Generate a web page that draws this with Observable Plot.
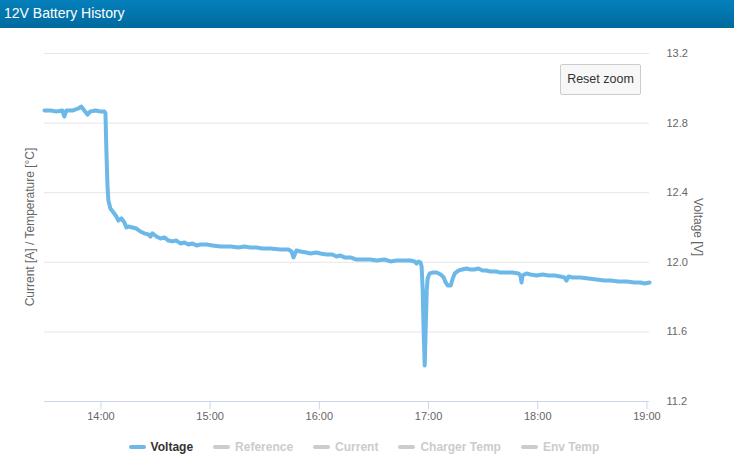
<!DOCTYPE html>
<html>
<head>
<meta charset="utf-8">
<script src="https://cdn.jsdelivr.net/npm/d3@7"></script>
<script src="https://cdn.jsdelivr.net/npm/@observablehq/plot@0.6"></script>
<style>
  html, body { margin: 0; padding: 0; background: #fff; }
  #wrap { position: relative; width: 734px; height: 471px; overflow: hidden; font-family: "Liberation Sans", Arial, Helvetica, sans-serif; }
  #header { position: absolute; left: 0; top: 0; width: 734px; height: 28px; background: linear-gradient(#0580bb, #006a9e); }
  #header span { position: absolute; left: 4px; top: 5px; color: #fff; font-size: 14px; line-height: 17px; }
  #chart { position: absolute; left: 0; top: 28px; }
  .ytitle { position: absolute; font-size: 12px; color: #666; white-space: nowrap; transform-origin: center center; }
  #btn { position: absolute; left: 560px; top: 64px; width: 79px; height: 29px; background: #f7f7f7; border: 1px solid #cccccc; border-radius: 2px; font-size: 12.5px; color: #333; text-align: center; line-height: 29px; }
  #legend { position: absolute; left: -3px; top: 440px; width: 734px; display: flex; justify-content: center; font-size: 12px; font-weight: bold; }
  .item { display: flex; align-items: center; margin: 0 10px; }
  .sym { display: inline-block; width: 17px; height: 4px; border-radius: 2px; margin-right: 5px; }
</style>
</head>
<body>
<div id="wrap">
  <div id="header"><span>12V Battery History</span></div>
  <div id="chart"></div>
  <div id="btn">Reset zoom</div>
  <div id="legend"></div>
</div>
<script>
const times = [
"13:29:00","13:32:18","13:35:30","13:38:48","13:39:54","13:41:00","13:44:18","13:47:36","13:49:18","13:50:54",
"13:52:36","13:54:12","13:57:00","13:59:42","14:01:54","14:02:30","14:03:00","14:03:36","14:04:06","14:05:12",
"14:06:54","14:08:30","14:09:36","14:11:18","14:12:54","14:14:00","14:15:06","14:17:18","14:19:30","14:21:42",
"14:23:54","14:26:06","14:27:12","14:28:18","14:30:30","14:32:42","14:34:54","14:37:06","14:39:18","14:41:30",
"14:43:42","14:45:54","14:48:06","14:50:18","14:52:30","14:54:42","14:58:00","15:01:18","15:05:42","15:11:12",
"15:15:36","15:18:48","15:22:06","15:25:24","15:28:42","15:33:06","15:38:36","15:43:00","15:44:42","15:45:48",
"15:47:24","15:49:36","15:52:54","15:55:06","15:58:24","16:00:36","16:03:54","16:07:12","16:09:24","16:11:36",
"16:13:48","16:17:06","16:20:24","16:23:42","16:28:06","16:31:24","16:35:48","16:39:06","16:42:24","16:46:48",
"16:50:06","16:52:18","16:53:24","16:54:30","16:55:36","16:56:12","16:56:48","16:57:18","16:57:54","16:58:24",
"16:59:00","16:59:30","17:00:36","17:02:18","17:04:30","17:06:42","17:08:18","17:09:24","17:10:30","17:12:12",
"17:13:18","17:14:24","17:16:36","17:18:36","17:20:48","17:23:00","17:25:12","17:27:24","17:29:36","17:31:48",
"17:34:00","17:37:18","17:39:30","17:42:48","17:46:06","17:49:24","17:50:30","17:51:06","17:51:36","17:53:48",
"17:56:00","17:59:18","18:02:36","18:05:54","18:09:12","18:12:30","18:14:42","18:15:48","18:16:54","18:19:06",
"18:23:24","18:27:54","18:32:18","18:36:36","18:40:00","18:44:24","18:48:48","18:53:06","18:56:24","18:58:36",
"19:01:24"
];
const voltage = [
12.872,12.872,12.867,12.872,12.838,12.872,12.872,12.884,12.895,12.872,
12.849,12.867,12.872,12.867,12.867,12.855,12.643,12.441,12.355,12.309,
12.286,12.263,12.240,12.252,12.229,12.200,12.206,12.200,12.194,12.177,
12.166,12.160,12.148,12.166,12.148,12.137,12.143,12.125,12.120,12.125,
12.108,12.114,12.102,12.108,12.097,12.102,12.102,12.097,12.091,12.091,
12.085,12.091,12.085,12.085,12.079,12.079,12.074,12.074,12.062,12.028,
12.068,12.062,12.056,12.051,12.056,12.051,12.045,12.045,12.033,12.039,
12.028,12.028,12.016,12.016,12.016,12.010,12.016,12.005,12.010,12.010,
12.010,12.005,11.993,12.005,11.999,11.976,11.838,11.608,11.407,11.608,
11.838,11.907,11.936,11.941,11.941,11.930,11.913,11.884,11.867,11.867,
11.907,11.936,11.953,11.959,11.964,11.959,11.959,11.964,11.953,11.953,
11.947,11.947,11.941,11.941,11.941,11.936,11.924,11.884,11.924,11.936,
11.930,11.924,11.930,11.924,11.924,11.918,11.913,11.895,11.918,11.913,
11.913,11.907,11.901,11.895,11.895,11.890,11.890,11.884,11.884,11.878,
11.884
];
const xTickLabels = ["14:00","15:00","16:00","17:00","18:00","19:00"];
const yTicks = [11.2, 11.6, 12.0, 12.4, 12.8, 13.2];
const seriesNames = ["Voltage","Reference","Current","Charger Temp","Env Temp"];
const seriesVisible = [true, false, false, false, false];

const parseT = d3.timeParse("%H:%M:%S");
const parseH = d3.timeParse("%H:%M");
const data = times.map((t, i) => ({time: parseT(t), v: voltage[i]}));
const xTicks = xTickLabels.map(parseH);
const font = '"Liberation Sans", Arial, Helvetica, sans-serif';
const lineColor = "#6cb8e8";

const chart = Plot.plot({
  width: 734,
  height: 400,
  marginTop: 25,
  marginBottom: 27,
  marginLeft: 44,
  marginRight: 85,
  style: {fontFamily: font, fontSize: "11px", color: "#666", background: "transparent"},
  x: {type: "time", domain: d3.extent(data, d => d.time)},
  y: {domain: [yTicks[0], yTicks[yTicks.length - 1]]},
  marks: [
    Plot.gridY(yTicks.slice(1), {stroke: "#e6e6e6", strokeOpacity: 1}),
    Plot.ruleY([yTicks[0]], {stroke: "#ccd6eb"}),
    Plot.axisX(xTicks, {tickFormat: d3.timeFormat("%H:%M"), tickSize: 8, tickPadding: 3, stroke: "#ccd6eb", fill: "#666", label: null}),
    Plot.axisY(yTicks, {anchor: "right", tickSize: 0, tickPadding: 17, textAnchor: "start", tickFormat: d3.format(".1f"), fill: "#666", label: null}),
    Plot.lineY(data, {x: "time", y: "v", stroke: lineColor, strokeWidth: 4, strokeLinejoin: "round", strokeLinecap: "round"})
  ]
});
document.getElementById("chart").appendChild(chart);

// axis titles
const wrap = document.getElementById("wrap");
function addTitle(text, cx, cy, rot) {
  const el = document.createElement("div");
  el.className = "ytitle";
  el.textContent = text;
  wrap.appendChild(el);
  const w = el.offsetWidth, h = el.offsetHeight;
  el.style.left = (cx - w / 2) + "px";
  el.style.top = (cy - h / 2) + "px";
  el.style.transform = `rotate(${rot}deg)`;
}
addTitle("Current [A] / Temperature [°C]", 30, 227, -90);
addTitle("Voltage [V]", 698, 227, 90);

// legend
const legend = document.getElementById("legend");
seriesNames.forEach((name, i) => {
  const item = document.createElement("div");
  item.className = "item";
  const sym = document.createElement("span");
  sym.className = "sym";
  sym.style.background = seriesVisible[i] ? lineColor : "#cccccc";
  const lab = document.createElement("span");
  lab.textContent = name;
  lab.style.color = seriesVisible[i] ? "#333333" : "#cccccc";
  item.appendChild(sym);
  item.appendChild(lab);
  legend.appendChild(item);
});
</script>
</body>
</html>
